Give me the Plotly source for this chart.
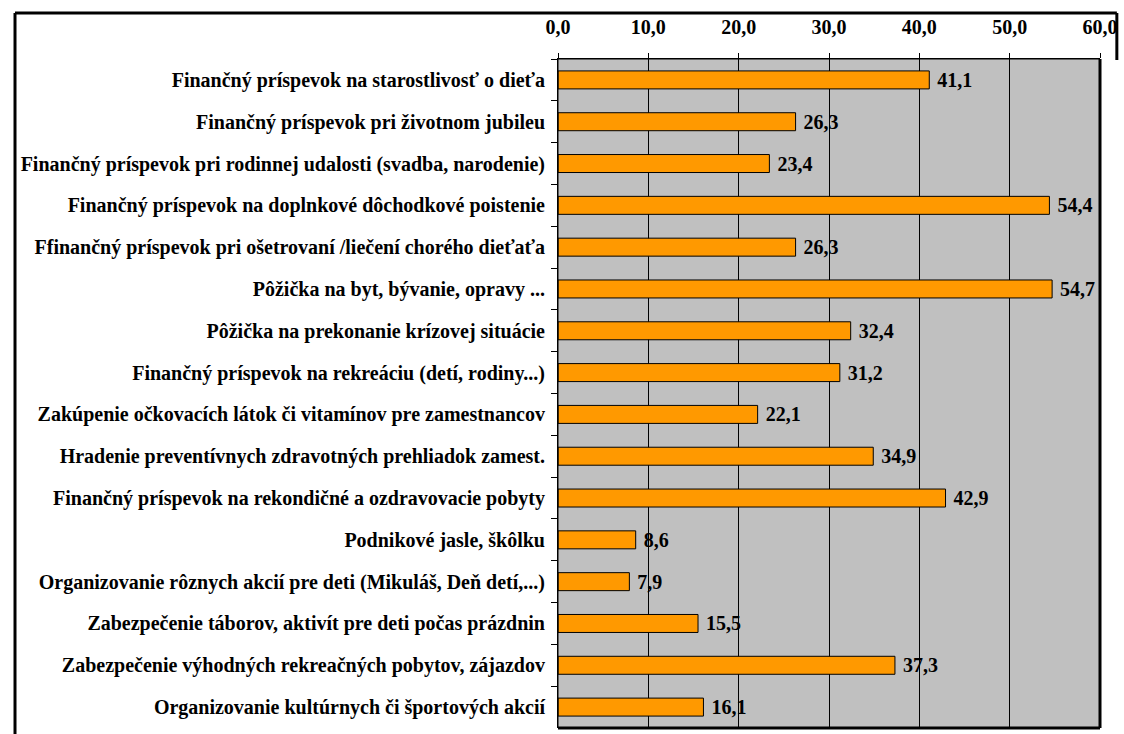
import plotly.graph_objects as go

# Share of respondents (%) per employee benefit
categories = [
    "Finančný príspevok na starostlivosť o dieťa",
    "Finančný príspevok pri životnom jubileu",
    "Finančný príspevok pri rodinnej udalosti (svadba, narodenie)",
    "Finančný príspevok na doplnkové dôchodkové poistenie",
    "Ffinančný príspevok pri ošetrovaní /liečení chorého dieťaťa",
    "Pôžička na byt, bývanie, opravy ...",
    "Pôžička na prekonanie krízovej situácie",
    "Finančný príspevok na rekreáciu (detí, rodiny...)",
    "Zakúpenie očkovacích látok či vitamínov pre zamestnancov",
    "Hradenie preventívnych zdravotných prehliadok zamest.",
    "Finančný príspevok na rekondičné a ozdravovacie pobyty",
    "Podnikové jasle, škôlku",
    "Organizovanie rôznych akcií pre deti (Mikuláš, Deň detí,...)",
    "Zabezpečenie táborov, aktivít pre deti počas prázdnin",
    "Zabezpečenie výhodných rekreačných pobytov, zájazdov",
    "Organizovanie kultúrnych či športových akcií",
]
values = [41.1, 26.3, 23.4, 54.4, 26.3, 54.7, 32.4, 31.2, 22.1, 34.9, 42.9, 8.6, 7.9, 15.5, 37.3, 16.1]
x_ticks = [0, 10, 20, 30, 40, 50, 60]

W, H = 1124, 734
ML, MR, MT, MB = 558, 19, 59, 6
FONT = "Times New Roman, Liberation Serif, serif"
FS = 20

labels = [" " + f"{v:.1f}".replace(".", ",") for v in values]


def px_x(p):
    return (p - ML) / (W - ML - MR)


def px_y(p):
    return 1 - (p - MT) / (H - MT - MB)


fig = go.Figure(
    go.Bar(
        x=values,
        y=categories,
        orientation="h",
        marker=dict(color="#FF9900", line=dict(color="#000000", width=1)),
        text=labels,
        textposition="outside",
        textfont=dict(family=FONT, size=FS, color="#000000", weight="bold"),
        constraintext="none",
        cliponaxis=False,
    )
)

fig.update_layout(
    width=W,
    height=H,
    margin=dict(l=ML, r=MR, t=MT, b=MB),
    paper_bgcolor="#FFFFFF",
    plot_bgcolor="#C0C0C0",
    separators=", ",
    bargap=0.57,
    showlegend=False,
    font=dict(family=FONT, size=FS, color="#000000", weight="bold"),
    xaxis=dict(
        side="top",
        range=[0, 60],
        tickvals=x_ticks,
        tickformat=".1f",
        ticks="outside",
        ticklen=5,
        tickcolor="#000000",
        tickwidth=1,
        showline=True,
        linecolor="#000000",
        linewidth=1,
        showgrid=True,
        gridcolor="#000000",
        gridwidth=1,
        zeroline=False,
        ticklabelstandoff=11,
        tickfont=dict(family=FONT, size=FS, color="#000000", weight="bold"),
    ),
    yaxis=dict(
        autorange="reversed",
        ticks="outside",
        tickson="boundaries",
        ticklen=6,
        tickcolor="#000000",
        showline=True,
        linecolor="#000000",
        linewidth=1,
        showgrid=False,
        ticklabelstandoff=8,
        tickfont=dict(family=FONT, size=FS, color="#000000", weight="bold"),
    ),
)

# plot-area frame with heavier right/bottom edges
fig.add_shape(type="rect", xref="paper", yref="paper", x0=0, x1=1, y0=0, y1=1,
              line=dict(color="#000000", width=1))
fig.add_shape(type="line", xref="paper", yref="paper", x0=1, x1=1, y0=0, y1=1,
              line=dict(color="#000000", width=3))
fig.add_shape(type="line", xref="paper", yref="paper", x0=0, x1=1, y0=0, y1=0,
              line=dict(color="#000000", width=3))

# outer chart border
fig.add_shape(type="line", xref="paper", yref="paper",
              x0=px_x(10), x1=px_x(10), y0=px_y(740), y1=px_y(13),
              line=dict(color="#000000", width=3))
fig.add_shape(type="line", xref="paper", yref="paper",
              x0=px_x(10), x1=px_x(1122), y0=px_y(13), y1=px_y(13),
              line=dict(color="#000000", width=3))
fig.add_shape(type="line", xref="paper", yref="paper",
              x0=px_x(1122), x1=px_x(1122), y0=px_y(13), y1=px_y(60),
              line=dict(color="#000000", width=3))

fig.write_html("out.html")
